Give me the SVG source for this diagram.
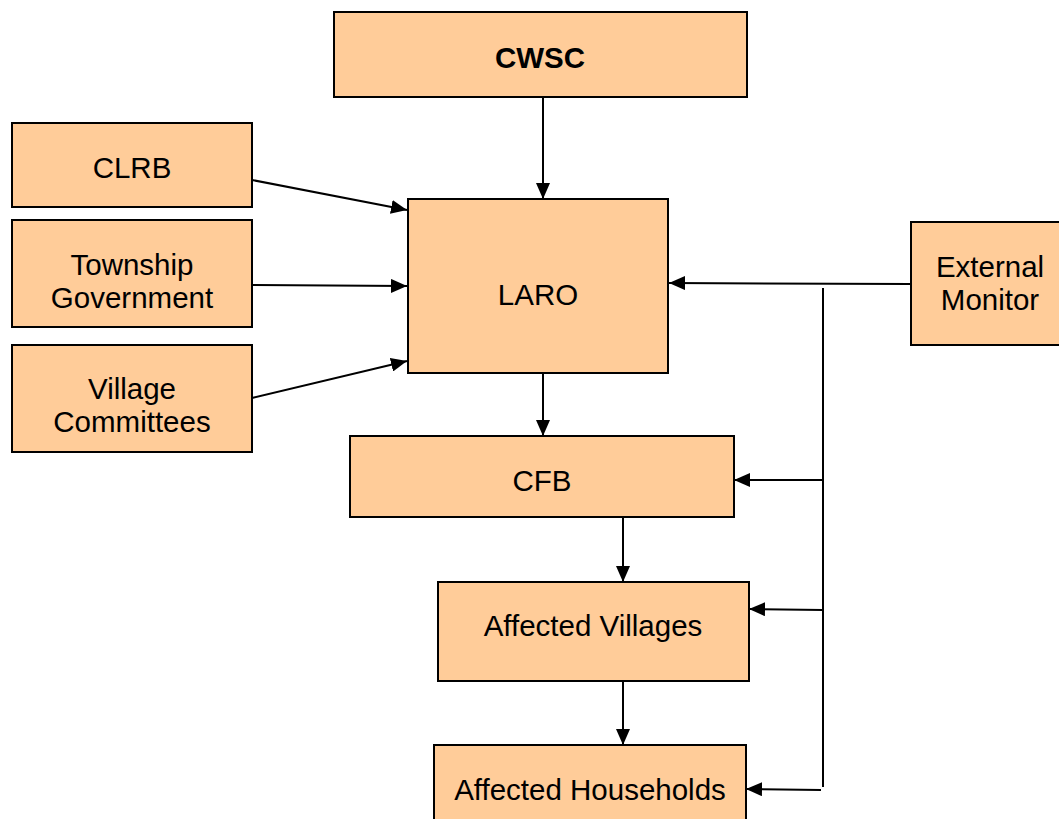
<svg xmlns="http://www.w3.org/2000/svg" width="1059" height="819" viewBox="0 0 1059 819">
<style>
.box{fill:#FFCC99;stroke:#000;stroke-width:2}
.t{font-family:"Liberation Sans",Arial,sans-serif;font-size:29.5px;fill:#000;text-anchor:middle}
.b{font-weight:bold}
.c{stroke:#000;stroke-width:2;fill:none}
</style>
<defs>
<marker id="ah" viewBox="0 0 16 14" refX="16" refY="7" markerWidth="16" markerHeight="14" markerUnits="userSpaceOnUse" orient="auto">
<path d="M0,0 L16,7 L0,14 Z" fill="#000"/>
</marker>
</defs>
<rect width="1059" height="819" fill="#fff"/>
<g id="connectors">
<line class="c" x1="543" y1="97" x2="543" y2="199" marker-end="url(#ah)"/>
<line class="c" x1="252" y1="180" x2="407" y2="210" marker-end="url(#ah)"/>
<line class="c" x1="252" y1="285" x2="407" y2="286" marker-end="url(#ah)"/>
<line class="c" x1="252" y1="398" x2="407" y2="361" marker-end="url(#ah)"/>
<line class="c" x1="911" y1="284" x2="669" y2="283" marker-end="url(#ah)"/>
<line class="c" x1="823" y1="288" x2="823" y2="787"/>
<line class="c" x1="543" y1="373" x2="543" y2="436" marker-end="url(#ah)"/>
<line class="c" x1="823" y1="480" x2="734" y2="480" marker-end="url(#ah)"/>
<line class="c" x1="623" y1="517" x2="623" y2="582" marker-end="url(#ah)"/>
<line class="c" x1="823" y1="610" x2="749" y2="609" marker-end="url(#ah)"/>
<line class="c" x1="623" y1="681" x2="623" y2="745" marker-end="url(#ah)"/>
<line class="c" x1="821" y1="790" x2="746" y2="789" marker-end="url(#ah)"/>
</g>
<g id="cwsc"><rect class="box" x="334" y="12" width="413" height="85"/><text class="t b" x="540" y="68">CWSC</text></g>
<g id="clrb"><rect class="box" x="12" y="123" width="240" height="84"/><text class="t" x="132" y="178">CLRB</text></g>
<g id="township"><rect class="box" x="12" y="220" width="240" height="107"/><text class="t" x="132" y="275">Township</text><text class="t" x="132" y="308">Government</text></g>
<g id="village"><rect class="box" x="12" y="345" width="240" height="107"/><text class="t" x="132" y="399">Village</text><text class="t" x="132" y="432">Committees</text></g>
<g id="laro"><rect class="box" x="408" y="199" width="260" height="174"/><text class="t" x="538" y="305">LARO</text></g>
<g id="external"><rect class="box" x="911" y="222" width="150" height="123"/><text class="t" x="990" y="277">External</text><text class="t" x="990" y="310">Monitor</text></g>
<g id="cfb"><rect class="box" x="350" y="436" width="384" height="81"/><text class="t" x="542" y="491">CFB</text></g>
<g id="villages"><rect class="box" x="438" y="582" width="311" height="99"/><text class="t" x="593" y="636">Affected Villages</text></g>
<g id="households"><rect class="box" x="434" y="745" width="312" height="80"/><text class="t" x="590" y="800">Affected Households</text></g>
</svg>
